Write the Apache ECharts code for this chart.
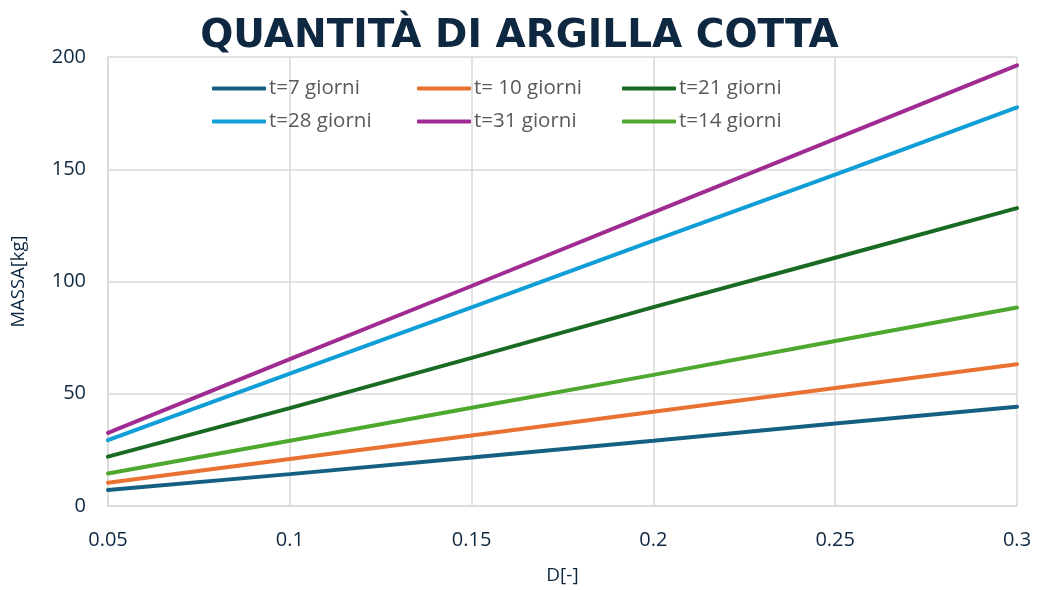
<!DOCTYPE html>
<html>
<head>
<meta charset="utf-8">
<script src="https://cdn.jsdelivr.net/npm/echarts@6/dist/echarts.min.js"></script>
<style>
  html, body { margin: 0; padding: 0; background: #fff; }
  #chart { width: 1039px; height: 590px; }
</style>
</head>
<body>
<div id="chart"></div>
<script>
// valori
var dValues = [0.05, 0.1, 0.15, 0.2, 0.25, 0.3];
var t7  = [7.1, 14.2, 21.6, 29.1, 36.8, 44.2];
var t10 = [10.4, 20.9, 31.4, 42.0, 52.6, 63.1];
var t21 = [22.0, 43.6, 66.0, 88.6, 110.6, 132.7];
var t28 = [29.3, 59.0, 88.5, 118.2, 147.6, 177.6];
var t31 = [32.6, 65.4, 98.0, 130.8, 163.5, 196.3];
var t14 = [14.5, 29.1, 43.8, 58.4, 73.5, 88.4];

var seriesNames = ['t=7 giorni', 't= 10 giorni', 't=21 giorni', 't=28 giorni', 't=31 giorni', 't=14 giorni'];
var seriesData = [t7, t10, t21, t28, t31, t14];
var colors = ['#156082', '#e97132', '#196b24', '#0f9ed5', '#a02b93', '#4ea72e'];

function pairs(ys) {
  return dValues.map(function (d, i) { return [d, ys[i]]; });
}

var chart = echarts.init(document.getElementById('chart'));

var series = seriesNames.map(function (name, i) {
  return {
    name: name,
    type: 'line',
    data: pairs(seriesData[i]),
    symbol: 'none',
    smooth: false,
    lineStyle: { width: 4, color: colors[i], cap: 'round' },
    itemStyle: { color: colors[i] }
  };
});

var option = {
  animation: false,
  color: colors,
  title: {
    text: 'QUANTITÀ DI ARGILLA COTTA',
    left: 'center',
    top: 12,
    textStyle: {
      fontFamily: 'DejaVu Sans',
      fontWeight: 'bold',
      fontSize: 39,
      color: '#0e2841'
    }
  },
  legend: {
    data: seriesNames,
    left: 207,
    top: 67,
    width: 620,
    itemGap: 0,
    itemWidth: 54,
    itemHeight: 4,
    icon: 'roundRect',
    textStyle: {
      fontFamily: 'Open Sans',
      fontSize: 20.5,
      color: '#595959',
      width: 148,
      height: 33,
      lineHeight: 33,
      padding: [0, 0, 0, -2]
    }
  },
  grid: {
    left: 108,
    right: 22,
    top: 57,
    bottom: 82
  },
  xAxis: {
    type: 'value',
    min: 0.05,
    max: 0.3,
    interval: 0.05,
    name: 'D[-]',
    nameLocation: 'middle',
    nameGap: 60,
    nameTextStyle: { fontFamily: 'Open Sans', fontSize: 19, color: '#0e2841' },
    axisLine: { show: true, lineStyle: { color: '#d9d9d9', width: 1.5 } },
    axisTick: { show: false },
    splitLine: { show: true, lineStyle: { color: '#d9d9d9', width: 1.5 } },
    axisLabel: {
      margin: 24,
      fontFamily: 'Open Sans',
      fontSize: 20,
      color: '#0e2841',
      formatter: function (v) { return String(+v.toFixed(2)); }
    }
  },
  yAxis: {
    type: 'value',
    min: 0,
    max: 200,
    interval: 50,
    name: 'MASSA[kg]',
    nameLocation: 'middle',
    nameGap: 80,
    nameTextStyle: { fontFamily: 'Open Sans', fontSize: 18.5, color: '#0e2841' },
    axisLine: { show: true, lineStyle: { color: '#d9d9d9', width: 1.5 } },
    axisTick: { show: false },
    splitLine: { show: true, lineStyle: { color: '#d9d9d9', width: 1.5 } },
    axisLabel: {
      margin: 22,
      fontFamily: 'Open Sans',
      fontSize: 20,
      color: '#0e2841'
    }
  },
  series: series
};

chart.setOption(option);
</script>
</body>
</html>
